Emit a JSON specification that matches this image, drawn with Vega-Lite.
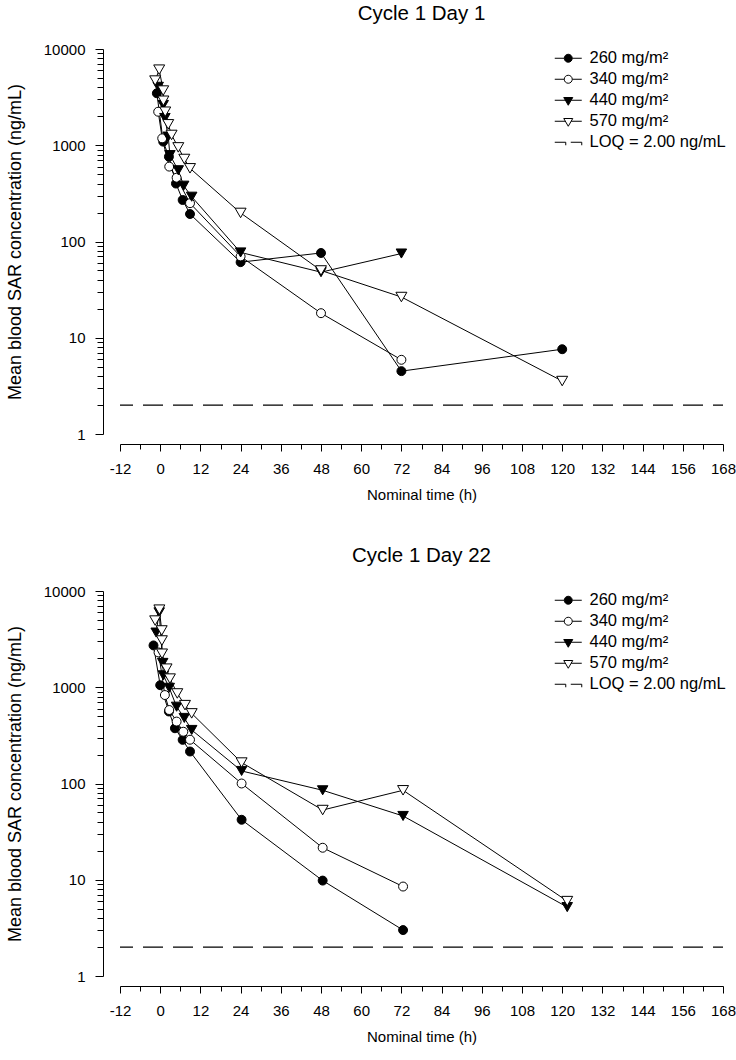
{
  "$schema": "https://vega.github.io/schema/vega-lite/v6.json",
  "background": "white",
  "padding": {"left": 6, "top": 3, "right": 5, "bottom": 5},
  "config": {
    "font": "Liberation Sans",
    "view": {"stroke": null},
    "axis": {"domainColor": "black", "tickColor": "black", "labelColor": "black", "titleColor": "black", "grid": false, "labelFont": "Liberation Sans", "titleFont": "Liberation Sans", "labelFontSize": 15, "titleFontSize": 15, "titleFontWeight": "normal", "domainWidth": 1, "tickWidth": 1},
    "title": {"font": "Liberation Sans", "fontSize": 20.5, "fontWeight": "normal", "color": "black", "anchor": "middle", "offset": 18},
    "legend": {"orient": "none", "legendX": 440, "legendY": 1, "title": null, "labelFont": "Liberation Sans", "labelFontSize": 16.5, "labelColor": "black", "symbolSize": 100, "symbolStrokeColor": "black", "symbolStrokeWidth": 1, "labelOffset": 13, "rowPadding": 4, "padding": 0, "symbolOpacity": 1}
  },
  "datasets": {
    "pk": [
      {"cycle": "C1D1", "dose": 260, "t": -1, "c": 3470},
      {"cycle": "C1D1", "dose": 260, "t": 0.9, "c": 1090},
      {"cycle": "C1D1", "dose": 260, "t": 2.6, "c": 760},
      {"cycle": "C1D1", "dose": 260, "t": 4.7, "c": 400},
      {"cycle": "C1D1", "dose": 260, "t": 6.7, "c": 270},
      {"cycle": "C1D1", "dose": 260, "t": 8.9, "c": 193},
      {"cycle": "C1D1", "dose": 260, "t": 24, "c": 61},
      {"cycle": "C1D1", "dose": 260, "t": 48, "c": 76},
      {"cycle": "C1D1", "dose": 260, "t": 72, "c": 4.5},
      {"cycle": "C1D1", "dose": 260, "t": 120, "c": 7.6},
      {"cycle": "C1D1", "dose": 340, "t": -0.6, "c": 2230},
      {"cycle": "C1D1", "dose": 340, "t": 0.6, "c": 1180},
      {"cycle": "C1D1", "dose": 340, "t": 2.7, "c": 600},
      {"cycle": "C1D1", "dose": 340, "t": 4.9, "c": 460},
      {"cycle": "C1D1", "dose": 340, "t": 8.9, "c": 250},
      {"cycle": "C1D1", "dose": 340, "t": 24, "c": 70},
      {"cycle": "C1D1", "dose": 340, "t": 48, "c": 18},
      {"cycle": "C1D1", "dose": 340, "t": 72, "c": 5.9},
      {"cycle": "C1D1", "dose": 440, "t": -0.6, "c": 4050},
      {"cycle": "C1D1", "dose": 440, "t": 0.9, "c": 2620},
      {"cycle": "C1D1", "dose": 440, "t": 1.4, "c": 1920},
      {"cycle": "C1D1", "dose": 440, "t": 2.4, "c": 1230},
      {"cycle": "C1D1", "dose": 440, "t": 2.9, "c": 790},
      {"cycle": "C1D1", "dose": 440, "t": 5.4, "c": 550},
      {"cycle": "C1D1", "dose": 440, "t": 7, "c": 380},
      {"cycle": "C1D1", "dose": 440, "t": 9.4, "c": 292},
      {"cycle": "C1D1", "dose": 440, "t": 24, "c": 77},
      {"cycle": "C1D1", "dose": 440, "t": 48, "c": 48},
      {"cycle": "C1D1", "dose": 440, "t": 72, "c": 75},
      {"cycle": "C1D1", "dose": 570, "t": -1.5, "c": 4700},
      {"cycle": "C1D1", "dose": 570, "t": -0.3, "c": 6100},
      {"cycle": "C1D1", "dose": 570, "t": 0.9, "c": 3700},
      {"cycle": "C1D1", "dose": 570, "t": 0.95, "c": 2900},
      {"cycle": "C1D1", "dose": 570, "t": 1.5, "c": 2230},
      {"cycle": "C1D1", "dose": 570, "t": 2.4, "c": 1650},
      {"cycle": "C1D1", "dose": 570, "t": 3.4, "c": 1280},
      {"cycle": "C1D1", "dose": 570, "t": 5.4, "c": 950},
      {"cycle": "C1D1", "dose": 570, "t": 7.2, "c": 720},
      {"cycle": "C1D1", "dose": 570, "t": 8.9, "c": 576},
      {"cycle": "C1D1", "dose": 570, "t": 24, "c": 198},
      {"cycle": "C1D1", "dose": 570, "t": 48, "c": 50},
      {"cycle": "C1D1", "dose": 570, "t": 72, "c": 26.5},
      {"cycle": "C1D1", "dose": 570, "t": 120, "c": 3.55},
      {"cycle": "C1D22", "dose": 260, "t": -2, "c": 2720},
      {"cycle": "C1D22", "dose": 260, "t": 0, "c": 1050},
      {"cycle": "C1D22", "dose": 260, "t": 2.6, "c": 560},
      {"cycle": "C1D22", "dose": 260, "t": 4.4, "c": 375},
      {"cycle": "C1D22", "dose": 260, "t": 6.7, "c": 284},
      {"cycle": "C1D22", "dose": 260, "t": 8.9, "c": 215},
      {"cycle": "C1D22", "dose": 260, "t": 24.3, "c": 42},
      {"cycle": "C1D22", "dose": 260, "t": 48.5, "c": 9.8},
      {"cycle": "C1D22", "dose": 260, "t": 72.5, "c": 3.0},
      {"cycle": "C1D22", "dose": 340, "t": -0.5, "c": 2300},
      {"cycle": "C1D22", "dose": 340, "t": 1.4, "c": 830},
      {"cycle": "C1D22", "dose": 340, "t": 2.7, "c": 580},
      {"cycle": "C1D22", "dose": 340, "t": 4.9, "c": 440},
      {"cycle": "C1D22", "dose": 340, "t": 6.9, "c": 345},
      {"cycle": "C1D22", "dose": 340, "t": 8.9, "c": 285},
      {"cycle": "C1D22", "dose": 340, "t": 24.3, "c": 100},
      {"cycle": "C1D22", "dose": 340, "t": 48.5, "c": 21.5},
      {"cycle": "C1D22", "dose": 340, "t": 72.5, "c": 8.5},
      {"cycle": "C1D22", "dose": 440, "t": -1.2, "c": 3700},
      {"cycle": "C1D22", "dose": 440, "t": -0.3, "c": 6000},
      {"cycle": "C1D22", "dose": 440, "t": 0.75, "c": 1790},
      {"cycle": "C1D22", "dose": 440, "t": 0.95, "c": 1330},
      {"cycle": "C1D22", "dose": 440, "t": 2.7, "c": 987},
      {"cycle": "C1D22", "dose": 440, "t": 4.9, "c": 628},
      {"cycle": "C1D22", "dose": 440, "t": 7.2, "c": 480},
      {"cycle": "C1D22", "dose": 440, "t": 9.4, "c": 360},
      {"cycle": "C1D22", "dose": 440, "t": 24.3, "c": 135},
      {"cycle": "C1D22", "dose": 440, "t": 48.5, "c": 85},
      {"cycle": "C1D22", "dose": 440, "t": 72.5, "c": 46},
      {"cycle": "C1D22", "dose": 440, "t": 121.5, "c": 5.2},
      {"cycle": "C1D22", "dose": 570, "t": -1.5, "c": 4930},
      {"cycle": "C1D22", "dose": 570, "t": -0.25, "c": 6400},
      {"cycle": "C1D22", "dose": 570, "t": 0.45, "c": 3890},
      {"cycle": "C1D22", "dose": 570, "t": 0.5, "c": 3060},
      {"cycle": "C1D22", "dose": 570, "t": 0.55, "c": 2230},
      {"cycle": "C1D22", "dose": 570, "t": 1.9, "c": 1560},
      {"cycle": "C1D22", "dose": 570, "t": 2.9, "c": 1230},
      {"cycle": "C1D22", "dose": 570, "t": 5.1, "c": 862},
      {"cycle": "C1D22", "dose": 570, "t": 7.4, "c": 652},
      {"cycle": "C1D22", "dose": 570, "t": 9.4, "c": 535},
      {"cycle": "C1D22", "dose": 570, "t": 24.3, "c": 165},
      {"cycle": "C1D22", "dose": 570, "t": 48.5, "c": 53},
      {"cycle": "C1D22", "dose": 570, "t": 72.5, "c": 85},
      {"cycle": "C1D22", "dose": 570, "t": 121.5, "c": 6}
    ],
    "legend": [
      {"series": "260 mg/m²"},
      {"series": "340 mg/m²"},
      {"series": "440 mg/m²"},
      {"series": "570 mg/m²"},
      {"series": "LOQ = 2.00 ng/mL"}
    ],
    "loq": [{"label": "LOQ", "conc": 2}]
  },
  "resolve": {"scale": {"shape": "independent", "fill": "independent", "stroke": "independent"}, "legend": {"shape": "independent", "fill": "independent", "stroke": "independent"}},
  "spacing": 43,
  "vconcat": [
    {
      "title": {"text": "Cycle 1 Day 1"},
      "width": 603,
      "height": 385,
      "resolve": {"axis": {"x": "independent", "y": "independent"}},
      "layer": [
        {
          "data": {"name": "loq"},
          "mark": {"type": "rule", "color": "black", "strokeWidth": 1.2, "strokeDash": [20, 10], "strokeDashOffset": 10},
          "encoding": {
            "y": {"field": "conc", "type": "quantitative", "scale": {"type": "log", "domain": [1, 10000], "nice": false}, "axis": null}
          }
        },
        {
          "data": {"name": "pk"},
          "transform": [{"filter": "datum.cycle === 'C1D1'"}],
          "mark": {"type": "line", "color": "black", "strokeWidth": 1},
          "encoding": {
            "x": {"field": "t", "type": "quantitative", "scale": {"domain": [-12, 168], "nice": false, "zero": false}, "axis": {"orient": "bottom", "values": [-12, 0, 12, 24, 36, 48, 60, 72, 84, 96, 108, 120, 132, 144, 156, 168], "labelExpr": "'' + datum.value", "offset": 10, "tickSize": 7, "labelPadding": 10, "title": "Nominal time (h)", "titlePadding": 11, "labelFlush": false}},
            "y": {"field": "c", "type": "quantitative", "scale": {"type": "log", "domain": [1, 10000], "nice": false}, "axis": {"orient": "left", "values": [1, 10, 100, 1000, 10000], "format": "d", "offset": 17, "tickSize": 8, "labelPadding": 10, "title": "Mean blood SAR concentration (ng/mL)", "titleFontSize": 18, "titlePadding": 19, "labelFlush": false}},
            "detail": {"field": "dose", "type": "nominal"}
          }
        },
        {
          "data": {"name": "pk"},
          "transform": [{"filter": "datum.cycle === 'C1D1' && datum.dose === 260"}],
          "mark": {"type": "point", "shape": "circle", "filled": true, "fill": "black", "stroke": "black", "strokeWidth": 1, "size": 80, "opacity": 1},
          "encoding": {
            "x": {"field": "t", "type": "quantitative", "scale": {"domain": [-12, 168], "nice": false, "zero": false}, "axis": null},
            "y": {"field": "c", "type": "quantitative", "scale": {"type": "log", "domain": [1, 10000], "nice": false}, "axis": null}
          }
        },
        {
          "data": {"name": "pk"},
          "transform": [{"filter": "datum.cycle === 'C1D1' && datum.dose === 340"}],
          "mark": {"type": "point", "shape": "circle", "filled": true, "fill": "white", "stroke": "black", "strokeWidth": 1, "size": 80, "opacity": 1},
          "encoding": {
            "x": {"field": "t", "type": "quantitative", "scale": {"domain": [-12, 168], "nice": false, "zero": false}, "axis": null},
            "y": {"field": "c", "type": "quantitative", "scale": {"type": "log", "domain": [1, 10000], "nice": false}, "axis": null}
          }
        },
        {
          "data": {"name": "pk"},
          "transform": [{"filter": "datum.cycle === 'C1D1' && datum.dose === 440"}],
          "mark": {"type": "point", "shape": "triangle-down", "filled": true, "fill": "black", "stroke": "black", "strokeWidth": 1, "size": 110, "opacity": 1},
          "encoding": {
            "x": {"field": "t", "type": "quantitative", "scale": {"domain": [-12, 168], "nice": false, "zero": false}, "axis": null},
            "y": {"field": "c", "type": "quantitative", "scale": {"type": "log", "domain": [1, 10000], "nice": false}, "axis": null}
          }
        },
        {
          "data": {"name": "pk"},
          "transform": [{"filter": "datum.cycle === 'C1D1' && datum.dose === 570"}],
          "mark": {"type": "point", "shape": "triangle-down", "filled": true, "fill": "white", "stroke": "black", "strokeWidth": 1, "size": 120, "opacity": 1},
          "encoding": {
            "x": {"field": "t", "type": "quantitative", "scale": {"domain": [-12, 168], "nice": false, "zero": false}, "axis": null},
            "y": {"field": "c", "type": "quantitative", "scale": {"type": "log", "domain": [1, 10000], "nice": false}, "axis": null}
          }
        },
        {
          "data": {"name": "legend"},
          "mark": {"type": "point", "clip": true, "filled": true, "strokeWidth": 1, "size": 100, "opacity": 1},
          "encoding": {
            "x": {"datum": 0, "type": "quantitative", "scale": {"domain": [-12, 168], "nice": false, "zero": false}, "axis": {"orient": "bottom", "values": [-6, 6, 18, 30, 42, 54, 66, 78, 90, 102, 114, 126, 138, 150, 162], "offset": 10, "tickSize": 5, "labels": false, "domain": false, "title": null}},
            "y": {"datum": 0.5, "type": "quantitative", "scale": {"type": "log", "domain": [1, 10000], "nice": false}, "axis": {"orient": "left", "values": [2, 3, 4, 5, 6, 7, 8, 9, 20, 30, 40, 50, 60, 70, 80, 90, 200, 300, 400, 500, 600, 700, 800, 900, 2000, 3000, 4000, 5000, 6000, 7000, 8000, 9000], "offset": 17, "tickSize": 6, "labels": false, "domain": false, "title": null}},
            "shape": {"field": "series", "type": "nominal", "scale": {"domain": ["260 mg/m²", "340 mg/m²", "440 mg/m²", "570 mg/m²", "LOQ = 2.00 ng/mL"], "range": ["M-2.7,0H-0.8M0.8,0H2.7M0.8,0A0.8,0.8,0,1,1,-0.8,0A0.8,0.8,0,1,1,0.8,0Z", "M-2.7,0H-0.8M0.8,0H2.7M0.8,0A0.8,0.8,0,1,1,-0.8,0A0.8,0.8,0,1,1,0.8,0Z", "M-2.7,0H-0.58M0.58,0H2.7M-0.9,-0.55L0.9,-0.55L0,1Z", "M-2.7,0H-0.58M0.58,0H2.7M-0.9,-0.55L0.9,-0.55L0,1Z", "M-2.7,0H-0.5V0.6M0.5,0H2.7V0.6"]}, "legend": {}},
            "fill": {"field": "series", "type": "nominal", "scale": {"domain": ["260 mg/m²", "340 mg/m²", "440 mg/m²", "570 mg/m²", "LOQ = 2.00 ng/mL"], "range": ["black", "white", "black", "white", "transparent"]}, "legend": {}},
            "stroke": {"field": "series", "type": "nominal", "scale": {"domain": ["260 mg/m²", "340 mg/m²", "440 mg/m²", "570 mg/m²", "LOQ = 2.00 ng/mL"], "range": ["black", "black", "black", "black", "black"]}, "legend": {}}
          }
        }
      ]
    },
    {
      "title": {"text": "Cycle 1 Day 22"},
      "width": 603,
      "height": 385,
      "resolve": {"axis": {"x": "independent", "y": "independent"}},
      "layer": [
        {
          "data": {"name": "loq"},
          "mark": {"type": "rule", "color": "black", "strokeWidth": 1.2, "strokeDash": [20, 10], "strokeDashOffset": 10},
          "encoding": {
            "y": {"field": "conc", "type": "quantitative", "scale": {"type": "log", "domain": [1, 10000], "nice": false}, "axis": null}
          }
        },
        {
          "data": {"name": "pk"},
          "transform": [{"filter": "datum.cycle === 'C1D22'"}],
          "mark": {"type": "line", "color": "black", "strokeWidth": 1},
          "encoding": {
            "x": {"field": "t", "type": "quantitative", "scale": {"domain": [-12, 168], "nice": false, "zero": false}, "axis": {"orient": "bottom", "values": [-12, 0, 12, 24, 36, 48, 60, 72, 84, 96, 108, 120, 132, 144, 156, 168], "labelExpr": "'' + datum.value", "offset": 10, "tickSize": 7, "labelPadding": 10, "title": "Nominal time (h)", "titlePadding": 11, "labelFlush": false}},
            "y": {"field": "c", "type": "quantitative", "scale": {"type": "log", "domain": [1, 10000], "nice": false}, "axis": {"orient": "left", "values": [1, 10, 100, 1000, 10000], "format": "d", "offset": 17, "tickSize": 8, "labelPadding": 10, "title": "Mean blood SAR concentration (ng/mL)", "titleFontSize": 18, "titlePadding": 19, "labelFlush": false}},
            "detail": {"field": "dose", "type": "nominal"}
          }
        },
        {
          "data": {"name": "pk"},
          "transform": [{"filter": "datum.cycle === 'C1D22' && datum.dose === 260"}],
          "mark": {"type": "point", "shape": "circle", "filled": true, "fill": "black", "stroke": "black", "strokeWidth": 1, "size": 80, "opacity": 1},
          "encoding": {
            "x": {"field": "t", "type": "quantitative", "scale": {"domain": [-12, 168], "nice": false, "zero": false}, "axis": null},
            "y": {"field": "c", "type": "quantitative", "scale": {"type": "log", "domain": [1, 10000], "nice": false}, "axis": null}
          }
        },
        {
          "data": {"name": "pk"},
          "transform": [{"filter": "datum.cycle === 'C1D22' && datum.dose === 340"}],
          "mark": {"type": "point", "shape": "circle", "filled": true, "fill": "white", "stroke": "black", "strokeWidth": 1, "size": 80, "opacity": 1},
          "encoding": {
            "x": {"field": "t", "type": "quantitative", "scale": {"domain": [-12, 168], "nice": false, "zero": false}, "axis": null},
            "y": {"field": "c", "type": "quantitative", "scale": {"type": "log", "domain": [1, 10000], "nice": false}, "axis": null}
          }
        },
        {
          "data": {"name": "pk"},
          "transform": [{"filter": "datum.cycle === 'C1D22' && datum.dose === 440"}],
          "mark": {"type": "point", "shape": "triangle-down", "filled": true, "fill": "black", "stroke": "black", "strokeWidth": 1, "size": 110, "opacity": 1},
          "encoding": {
            "x": {"field": "t", "type": "quantitative", "scale": {"domain": [-12, 168], "nice": false, "zero": false}, "axis": null},
            "y": {"field": "c", "type": "quantitative", "scale": {"type": "log", "domain": [1, 10000], "nice": false}, "axis": null}
          }
        },
        {
          "data": {"name": "pk"},
          "transform": [{"filter": "datum.cycle === 'C1D22' && datum.dose === 570"}],
          "mark": {"type": "point", "shape": "triangle-down", "filled": true, "fill": "white", "stroke": "black", "strokeWidth": 1, "size": 120, "opacity": 1},
          "encoding": {
            "x": {"field": "t", "type": "quantitative", "scale": {"domain": [-12, 168], "nice": false, "zero": false}, "axis": null},
            "y": {"field": "c", "type": "quantitative", "scale": {"type": "log", "domain": [1, 10000], "nice": false}, "axis": null}
          }
        },
        {
          "data": {"name": "legend"},
          "mark": {"type": "point", "clip": true, "filled": true, "strokeWidth": 1, "size": 100, "opacity": 1},
          "encoding": {
            "x": {"datum": 0, "type": "quantitative", "scale": {"domain": [-12, 168], "nice": false, "zero": false}, "axis": {"orient": "bottom", "values": [-6, 6, 18, 30, 42, 54, 66, 78, 90, 102, 114, 126, 138, 150, 162], "offset": 10, "tickSize": 5, "labels": false, "domain": false, "title": null}},
            "y": {"datum": 0.5, "type": "quantitative", "scale": {"type": "log", "domain": [1, 10000], "nice": false}, "axis": {"orient": "left", "values": [2, 3, 4, 5, 6, 7, 8, 9, 20, 30, 40, 50, 60, 70, 80, 90, 200, 300, 400, 500, 600, 700, 800, 900, 2000, 3000, 4000, 5000, 6000, 7000, 8000, 9000], "offset": 17, "tickSize": 6, "labels": false, "domain": false, "title": null}},
            "shape": {"field": "series", "type": "nominal", "scale": {"domain": ["260 mg/m²", "340 mg/m²", "440 mg/m²", "570 mg/m²", "LOQ = 2.00 ng/mL"], "range": ["M-2.7,0H-0.8M0.8,0H2.7M0.8,0A0.8,0.8,0,1,1,-0.8,0A0.8,0.8,0,1,1,0.8,0Z", "M-2.7,0H-0.8M0.8,0H2.7M0.8,0A0.8,0.8,0,1,1,-0.8,0A0.8,0.8,0,1,1,0.8,0Z", "M-2.7,0H-0.58M0.58,0H2.7M-0.9,-0.55L0.9,-0.55L0,1Z", "M-2.7,0H-0.58M0.58,0H2.7M-0.9,-0.55L0.9,-0.55L0,1Z", "M-2.7,0H-0.5V0.6M0.5,0H2.7V0.6"]}, "legend": {}},
            "fill": {"field": "series", "type": "nominal", "scale": {"domain": ["260 mg/m²", "340 mg/m²", "440 mg/m²", "570 mg/m²", "LOQ = 2.00 ng/mL"], "range": ["black", "white", "black", "white", "transparent"]}, "legend": {}},
            "stroke": {"field": "series", "type": "nominal", "scale": {"domain": ["260 mg/m²", "340 mg/m²", "440 mg/m²", "570 mg/m²", "LOQ = 2.00 ng/mL"], "range": ["black", "black", "black", "black", "black"]}, "legend": {}}
          }
        }
      ]
    }
  ]
}
